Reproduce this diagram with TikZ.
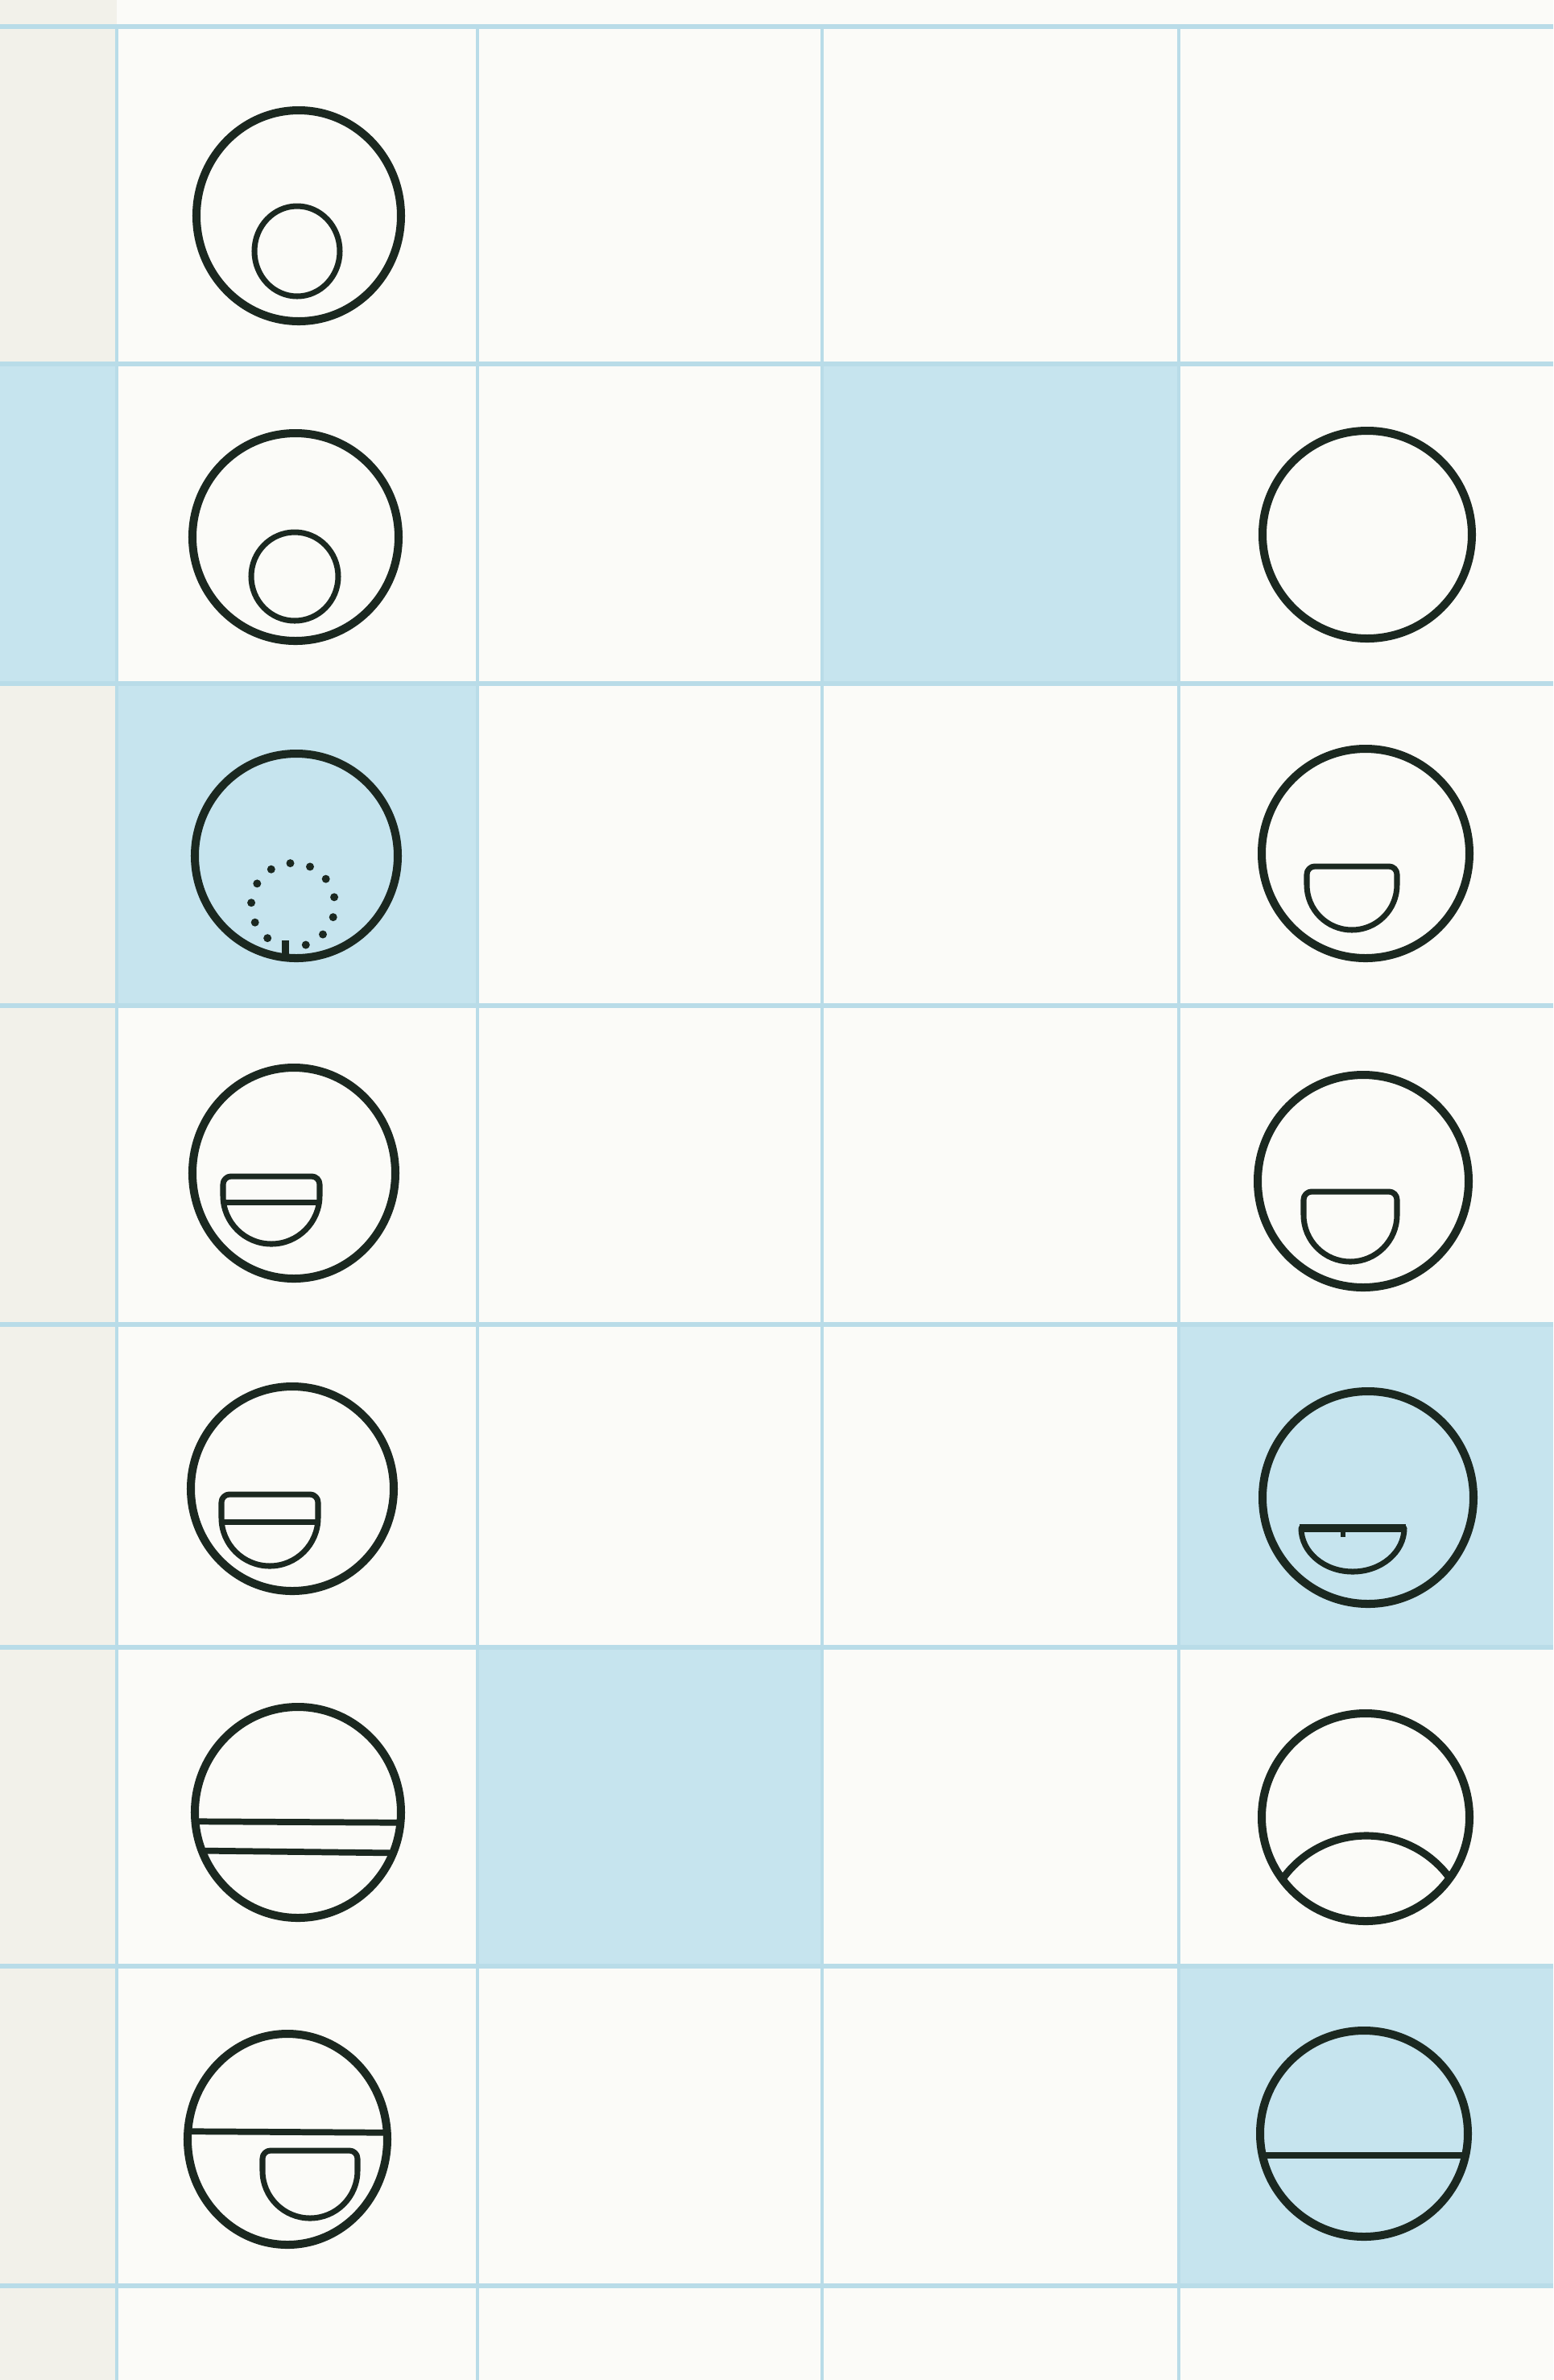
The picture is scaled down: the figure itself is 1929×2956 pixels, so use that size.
\documentclass[tikz,border=0pt]{standalone}
\usetikzlibrary{calc}
\definecolor{paper}{HTML}{FBFBF8}
\definecolor{strip}{HTML}{F2F1EA}
\definecolor{cellblue}{HTML}{C6E4EE}
\definecolor{gridblue}{HTML}{B9DCE8}
\definecolor{ink}{HTML}{1B2820}
\tikzset{
  outerring/.style={draw=ink, line width=2.85pt},
  innerform/.style={draw=ink, line width=2pt, line join=round},
  chord/.style={draw=ink, line width=2.2pt},
  hline/.style={draw=gridblue, line width=1.7pt},
  vline/.style={draw=gridblue, line width=1pt},
  bluecell/.style={fill=cellblue, draw=none},
  inkdot/.style={fill=ink, draw=none}
}
% D shape with rounded top corners: #1 centre x, #2 top y, #3 bottom y, #4 half width
\newcommand\Dsym[4]{%
  \pgfmathsetmacro\dsstraight{max(#3-#2-#4,12)}%
  \pgfmathsetmacro\dsry{#3-#2-\dsstraight}%
  \draw[innerform] (#1-#4,#2+\dsstraight) -- (#1-#4,#2+10)
    arc[start angle=180,end angle=270,radius=10] -- (#1+#4-10,#2)
    arc[start angle=270,end angle=360,radius=10] -- (#1+#4,#2+\dsstraight)
    arc[start angle=0,end angle=180,x radius=#4,y radius=\dsry] -- cycle;}
% flat bowl: #1 centre x, #2 top y, #3 bottom y, #4 half width
\newcommand\Bowlsym[4]{%
  \draw[innerform] (#1-#4,#2) -- (#1+#4,#2)
    arc[start angle=0,end angle=180,x radius=#4,y radius=#3-#2] -- cycle;}
\begin{document}
\begin{tikzpicture}[x=0.01cm,y=-0.01cm]
\useasboundingbox (0,0) rectangle (1929,2956);
% paper
\fill[paper] (0,0) rectangle (1929,2956);
\fill[strip] (0,0) rectangle (145,2956);
% blue cells
\fill[bluecell] (0,452) rectangle (145,849);
\fill[bluecell] (1021,452) rectangle (1464,849);
\fill[bluecell] (145,849) rectangle (593,1249);
\fill[bluecell] (1464,1645) rectangle (1929,2046);
\fill[bluecell] (593,2046) rectangle (1021,2442);
\fill[bluecell] (1464,2442) rectangle (1929,2839);
% grid
\foreach \gy in {33,452,849,1249,1645,2046,2442,2839}
  \draw[hline] (0,\gy) -- (1929,\gy);
\foreach \gx in {145,593,1021,1464}
  \draw[vline] (\gx,33) -- (\gx,2956);

% Row 1 left
\coordinate (r1l) at (371,268);
\draw[outerring] (r1l) ellipse[x radius=127,y radius=131];
\draw[innerform] (369,312) ellipse[x radius=53,y radius=56];

% Row 2 left
\coordinate (r2l) at (367,667);
\draw[outerring] (r2l) ellipse[x radius=128,y radius=129];
\draw[innerform] (366,716) ellipse[x radius=54,y radius=55];
% Row 2 right
\coordinate (r2r) at (1698,664);
\draw[outerring] (r2r) ellipse[x radius=130,y radius=129];

% Row 3 left: dotted inner circle
\coordinate (r3l) at (368,1063);
\coordinate (r3dots) at (364,1124);
\draw[outerring] (r3l) ellipse[x radius=126,y radius=127];
\foreach \k in {1,...,12}
  \fill[inkdot] ($(r3dots)+({52*cos(100+\k*360/13)},{52*sin(100+\k*360/13)})$) circle[radius=5];
\fill[inkdot] (350,1168) rectangle (359,1188);
% Row 3 right
\coordinate (r3r) at (1696,1060);
\draw[outerring] (r3r) ellipse[x radius=129,y radius=130];
\Dsym{1679}{1076}{1155}{56}

% Row 4 left
\coordinate (r4l) at (365,1457);
\draw[outerring] (r4l) ellipse[x radius=126,y radius=131];
\Dsym{337}{1461}{1545}{60}
\draw[innerform] (277,1493) -- (397,1493);
% Row 4 right
\coordinate (r4r) at (1693,1467);
\draw[outerring] (r4r) ellipse[x radius=131,y radius=132];
\Dsym{1677}{1480}{1567}{58}

% Row 5 left
\coordinate (r5l) at (363,1849);
\draw[outerring] (r5l) ellipse[x radius=126,y radius=127];
\Dsym{335}{1856}{1945}{60}
\draw[innerform] (275,1890) -- (395,1890);
% Row 5 right
\coordinate (r5r) at (1699,1860);
\draw[outerring] (r5r) ellipse[x radius=131,y radius=132];
\Bowlsym{1680}{1898}{1952}{64}
\draw[draw=ink, line width=2.8pt] (1614,1898) -- (1746,1898);
\draw[draw=ink, line width=1.6pt] (1668,1898) -- (1668,1909);

% Row 6 left: two chords
\coordinate (r6l) at (370,2251);
\begin{scope}
  \clip (r6l) ellipse[x radius=128,y radius=131];
  \draw[chord] (200,2262) -- (540,2264);
  \draw[chord] (200,2298) -- (540,2302);
\end{scope}
\draw[outerring] (r6l) ellipse[x radius=128,y radius=131];
% Row 6 right: lower arc
\coordinate (r6r) at (1696,2257);
\begin{scope}
  \clip (r6r) ellipse[x radius=129,y radius=129];
  \draw[chord, line width=2.6pt] (1697,2408) circle[radius=128];
\end{scope}
\draw[outerring] (r6r) ellipse[x radius=129,y radius=129];

% Row 7 left
\coordinate (r7l) at (357,2657);
\begin{scope}
  \clip (r7l) ellipse[x radius=124,y radius=131];
  \draw[chord] (200,2647) -- (520,2649);
\end{scope}
\draw[outerring] (r7l) ellipse[x radius=124,y radius=131];
\Dsym{385}{2671}{2755}{59}
% Row 7 right
\coordinate (r7r) at (1694,2650);
\begin{scope}
  \clip (r7r) ellipse[x radius=129,y radius=128];
  \draw[chord, line width=2.4pt] (1540,2677) -- (1850,2677);
\end{scope}
\draw[outerring] (r7r) ellipse[x radius=129,y radius=128];
\end{tikzpicture}
\end{document}
